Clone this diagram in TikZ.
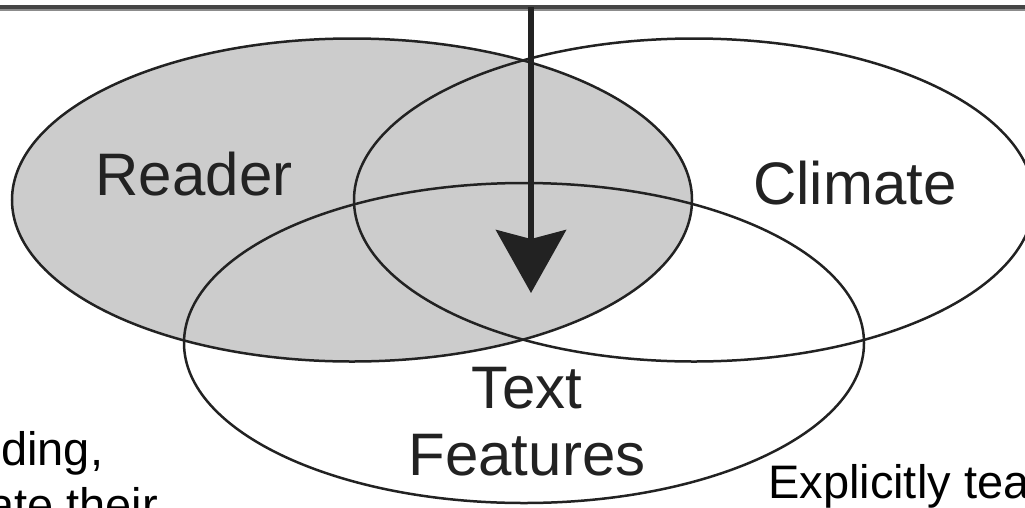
\documentclass[tikz,border=0pt]{standalone}
\usepackage{fontspec}
\setmainfont{Liberation Sans}
\usetikzlibrary{arrows.meta,shapes.geometric}
\definecolor{outline}{HTML}{222222}
\definecolor{zonefill}{HTML}{CCCCCC}
\definecolor{rulebar}{HTML}{454545}
\definecolor{ruleedge}{HTML}{8C8C8C}
\tikzset{
  zone/.style={ellipse, draw=outline, line width=2.5pt, minimum width=680pt,
               minimum height=323pt, inner sep=0pt},
  readerzone/.style={zone, fill=zonefill},
  zonelabel/.style={font=\fontsize{60}{67}\selectfont, text=outline,
                    inner sep=0pt, anchor=base},
  sidenote/.style={font=\fontsize{47}{53}\selectfont, text=black,
                   inner sep=0pt, anchor=base west},
}

\begin{document}
\begin{tikzpicture}[x=1pt, y=-1pt]
    \useasboundingbox (0,0) rectangle (1025,507);
    \clip (0,0) rectangle (1025,507);
    \draw[rulebar, line width=4pt] (0,7) -- (1025,7);
    \draw[ruleedge, line width=2pt] (0,10) -- (1025,10);
    \node[readerzone] (reader) at (352,200) {};
    \node[zone] (climate) at (694,200) {};
    \node[zone, minimum height=320pt] (features) at (524,343) {};
    \node[zonelabel] (readerlbl) at (194,195) {Reader};
    \node[zonelabel] (climatelbl) at (855,204) {Climate};
    \node[zonelabel, anchor=center, align=center] (featureslbl) at (527,422) {Text\\Features};
    \coordinate (drop) at (531,7);
    \coordinate (focus) at (531,293);
    \draw[-{Stealth[length=63pt, width=70pt, inset=9pt]}, line width=6pt, outline] (drop) -- (focus);
    \node[sidenote] (note1) at (1,465) {ding,};
    \node[sidenote] (note2) at (-12,521) {ate their};
    \node[sidenote] (note3) at (768,498) {Explicitly tea};
  \end{tikzpicture}
\end{document}
